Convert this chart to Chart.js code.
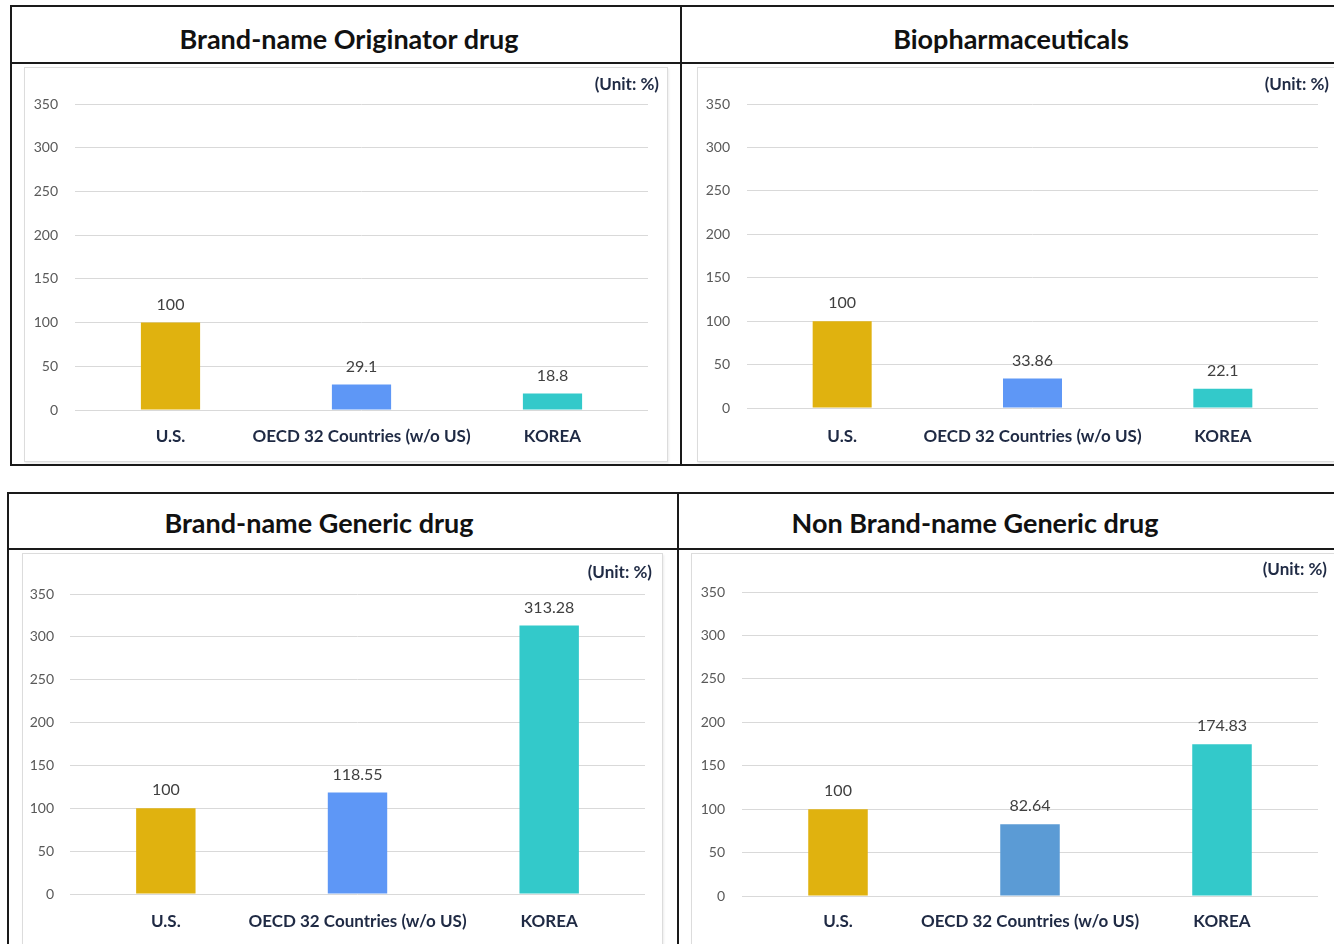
<!DOCTYPE html>
<html>
<head>
<meta charset="utf-8">
<script src="https://cdn.jsdelivr.net/npm/chart.js@4.4.1/dist/chart.umd.min.js"></script>
<style>
  html, body { margin:0; padding:0; background:#fff; width:1334px; height:944px; overflow:hidden; position:relative; font-family: Lato, "Open Sans", sans-serif; }
  .ln { position:absolute; background:#1a1a1a; }
  .title { position:absolute; transform:translate(-50%, -50%); font-weight:bold; font-size:27px; color:#111; white-space:nowrap; }
  .box { position:absolute; border:1px solid #DCDCDC; box-shadow: 1px 2px 2px rgba(0,0,0,0.08); box-sizing:border-box; }
  canvas { position:absolute; }
</style>
</head>
<body>
<!-- top table -->
<div class="ln" style="left:10px;top:5px;width:1330px;height:2px"></div>
<div class="ln" style="left:10px;top:62px;width:1330px;height:2px"></div>
<div class="ln" style="left:10px;top:464px;width:1330px;height:2px"></div>
<div class="ln" style="left:10px;top:5px;width:2px;height:461px"></div>
<div class="ln" style="left:680px;top:5px;width:2px;height:461px"></div>
<!-- bottom table -->
<div class="ln" style="left:7px;top:492px;width:1330px;height:2px"></div>
<div class="ln" style="left:7px;top:548px;width:1330px;height:2px"></div>
<div class="ln" style="left:7px;top:492px;width:2px;height:460px"></div>
<div class="ln" style="left:677px;top:492px;width:2px;height:460px"></div>

<div class="title" style="left:349px;top:38px">Brand-name Originator drug</div>
<div class="title" style="left:1011px;top:38px">Biopharmaceuticals</div>
<div class="title" style="left:319px;top:522px">Brand-name Generic drug</div>
<div class="title" style="left:975px;top:522px">Non Brand-name Generic drug</div>

<div class="box" style="left:24px;top:67px;width:644px;height:395px"></div>
<div class="box" style="left:697px;top:67px;width:640px;height:395px"></div>
<div class="box" style="left:22px;top:553px;width:641px;height:395px"></div>
<div class="box" style="left:691px;top:553px;width:646px;height:395px"></div>

<canvas id="c1"></canvas>
<canvas id="c2"></canvas>
<canvas id="c3"></canvas>
<canvas id="c4"></canvas>

<script>
// ---- data ----
const categories = ["U.S.", "OECD 32 Countries (w/o US)", "KOREA"];
const originatorValues = [100, 29.1, 18.8];
const biopharmaValues = [100, 33.86, 22.1];
const brandGenericValues = [100, 118.55, 313.28];
const nonBrandGenericValues = [100, 82.64, 174.83];
const yTickValues = [0, 50, 100, 150, 200, 250, 300, 350];
const unitLabel = "(Unit: %)";
const colorsA = ["#E0B20F", "#5E97F6", "#33C9CA"];
const colorsB = ["#E0B20F", "#5B9BD5", "#33C9CA"];

const barLabelPlugin = {
  id: 'barLabels',
  afterDatasetsDraw(chart, args, opts) {
    const ctx = chart.ctx;
    const meta = chart.getDatasetMeta(0);
    const vals = chart.data.datasets[0].data;
    ctx.save();
    ctx.font = '16px Lato';
    ctx.fillStyle = '#404040';
    ctx.textAlign = 'center';
    ctx.textBaseline = 'middle';
    meta.data.forEach((bar, i) => {
      ctx.fillText(String(vals[i]), bar.x, bar.y - 18);
    });
    ctx.font = 'bold 17px Lato';
    ctx.fillStyle = '#1F2A44';
    ctx.textAlign = 'right';
    ctx.fillText(opts.unit, opts.unitX, opts.unitY);
    ctx.restore();
  }
};

function makeChart(id, values, colors, L) {
  const cv = document.getElementById(id);
  const bw = L.boxR - L.boxL, bh = L.boxB - L.boxT;
  cv.width = bw; cv.height = bh;
  cv.style.left = L.boxL + 'px'; cv.style.top = L.boxT + 'px';
  cv.style.width = bw + 'px'; cv.style.height = bh + 'px';
  const yW = L.areaL - L.boxL;
  const xH = L.boxB - L.areaB;
  return new Chart(cv, {
    type: 'bar',
    data: {
      labels: categories,
      datasets: [{ data: values, backgroundColor: colors, borderWidth: 0,
                   categoryPercentage: 1, barPercentage: 0.31 }]
    },
    options: {
      responsive: false, animation: false, devicePixelRatio: 1,
      layout: { padding: { left: 0, top: L.areaT - L.boxT, right: L.boxR - L.areaR, bottom: 0 } },
      plugins: {
        legend: { display: false }, tooltip: { enabled: false },
        barLabels: { unit: unitLabel, unitX: L.unitR - L.boxL, unitY: L.unitY - L.boxT }
      },
      scales: {
        x: {
          grid: { display: false, drawTicks: false }, border: { display: false },
          ticks: { color: '#1F2A44', font: { family: 'Lato', size: 17, weight: 'bold' },
                   padding: L.xPad, maxRotation: 0, autoSkip: false },
          afterFit(s) { s.height = xH; }
        },
        y: {
          min: 0, max: 350,
          afterBuildTicks(s) { s.ticks = yTickValues.map(v => ({ value: v })); },
          grid: { color: '#D9D9D9', drawTicks: false, lineWidth: 1 },
          border: { display: false },
          ticks: { color: '#595959', font: { family: 'Lato', size: 14 },
                   padding: L.areaL - L.yLabR },
          afterFit(s) { s.width = yW; }
        }
      }
    },
    plugins: [barLabelPlugin]
  });
}

function draw() {
  makeChart('c1', originatorValues, colorsA,
    { boxL: 25, boxT: 68, boxR: 667, boxB: 461, areaL: 75, areaR: 648, areaT: 104, areaB: 410,
      yLabR: 58, xPad: 16, unitR: 659, unitY: 85 });
  makeChart('c2', biopharmaValues, colorsA,
    { boxL: 698, boxT: 68, boxR: 1334, boxB: 461, areaL: 747, areaR: 1318, areaT: 104, areaB: 408,
      yLabR: 730, xPad: 18, unitR: 1329, unitY: 85 });
  makeChart('c3', brandGenericValues, colorsA,
    { boxL: 23, boxT: 554, boxR: 662, boxB: 944, areaL: 70, areaR: 645, areaT: 594, areaB: 894,
      yLabR: 54, xPad: 17, unitR: 652, unitY: 573 });
  makeChart('c4', nonBrandGenericValues, colorsB,
    { boxL: 692, boxT: 554, boxR: 1334, boxB: 944, areaL: 742, areaR: 1318, areaT: 592, areaB: 896,
      yLabR: 725, xPad: 15, unitR: 1327, unitY: 570 });
}

if (document.fonts && document.fonts.load) {
  Promise.all([document.fonts.load('14px Lato'), document.fonts.load('bold 14px Lato')])
    .then(draw, draw);
} else { draw(); }
</script>
</body>
</html>
